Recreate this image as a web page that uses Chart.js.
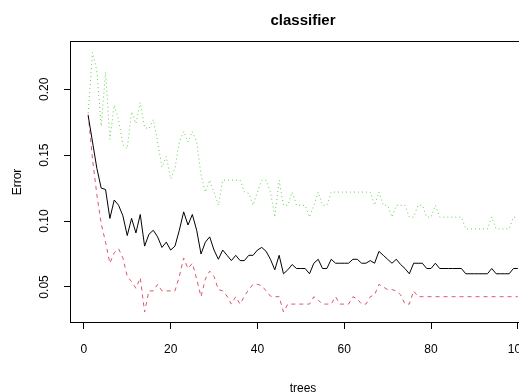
<!DOCTYPE html>
<html><head><meta charset="utf-8">
<script src="https://cdn.jsdelivr.net/npm/chart.js@4"></script>
<style>
html,body{margin:0;padding:0;overflow:hidden;background:#fff;width:519px;height:392px}
#wrap{position:absolute;left:0;top:0;width:570px;height:400px}
</style>
</head><body><div id="wrap"><canvas id="c" width="570" height="400"></canvas></div>
<script>
const trees=[1,2,3,4,5,6,7,8,9,10,11,12,13,14,15,16,17,18,19,20,21,22,23,24,25,26,27,28,29,30,31,32,33,34,35,36,37,38,39,40,41,42,43,44,45,46,47,48,49,50,51,52,53,54,55,56,57,58,59,60,61,62,63,64,65,66,67,68,69,70,71,72,73,74,75,76,77,78,79,80,81,82,83,84,85,86,87,88,89,90,91,92,93,94,95,96,97,98,99,100];
const oob=[0.180,0.160,0.140,0.125,0.124,0.102,0.116,0.112,0.104,0.089,0.102,0.091,0.105,0.081,0.090,0.093,0.088,0.080,0.084,0.078,
0.081,0.093,0.107,0.097,0.105,0.093,0.075,0.084,0.088,0.078,0.071,0.078,0.074,0.070,0.074,0.070,0.070,0.074,0.074,0.078,
0.080,0.077,0.071,0.063,0.074,0.060,0.063,0.067,0.064,0.064,0.064,0.060,0.068,0.071,0.064,0.064,0.071,0.068,0.068,0.068,
0.068,0.071,0.071,0.068,0.068,0.070,0.068,0.077,0.074,0.071,0.068,0.071,0.067,0.064,0.060,0.068,0.068,0.068,0.064,0.064,
0.068,0.064,0.064,0.064,0.064,0.064,0.064,0.060,0.060,0.060,0.060,0.060,0.060,0.064,0.060,0.060,0.060,0.060,0.064,0.064];
const class1=[0.181,0.147,0.120,0.098,0.084,0.068,0.076,0.079,0.072,0.058,0.054,0.049,0.057,0.031,0.047,0.047,0.052,0.047,0.047,0.047,
0.047,0.058,0.072,0.064,0.068,0.056,0.0426,0.056,0.062,0.058,0.048,0.047,0.043,0.037,0.0426,0.037,0.043,0.048,0.052,0.052,
0.051,0.047,0.043,0.0426,0.0426,0.031,0.037,0.037,0.037,0.037,0.037,0.037,0.0426,0.040,0.037,0.037,0.037,0.0426,0.037,0.037,
0.037,0.0426,0.041,0.037,0.037,0.0426,0.044,0.052,0.050,0.048,0.048,0.047,0.044,0.037,0.037,0.047,0.0426,0.0426,0.0426,0.0426,
0.0426,0.0426,0.0426,0.0426,0.0426,0.0426,0.0426,0.0426,0.0426,0.0426,0.0426,0.0426,0.0426,0.0426,0.0426,0.0426,0.0426,0.0426,0.0426,0.0426];
const class2=[0.182,0.228,0.214,0.172,0.213,0.162,0.188,0.177,0.158,0.155,0.183,0.174,0.190,0.171,0.170,0.177,0.160,0.141,0.149,0.132,
0.140,0.160,0.168,0.160,0.168,0.160,0.135,0.122,0.131,0.122,0.112,0.131,0.131,0.131,0.131,0.131,0.122,0.121,0.112,0.122,
0.131,0.131,0.122,0.103,0.131,0.112,0.112,0.122,0.112,0.112,0.112,0.103,0.112,0.122,0.112,0.112,0.122,0.122,0.122,0.122,
0.122,0.122,0.122,0.122,0.122,0.122,0.112,0.122,0.112,0.112,0.103,0.112,0.112,0.112,0.103,0.103,0.112,0.112,0.103,0.103,
0.112,0.103,0.103,0.103,0.103,0.103,0.103,0.094,0.094,0.094,0.094,0.094,0.094,0.103,0.094,0.094,0.094,0.094,0.103,0.103];
const xTicks=[0,20,40,60,80,100];
const yTicks=[0.05,0.10,0.15,0.20];

Chart.defaults.font.family='"Liberation Sans", Arial, sans-serif';
Chart.defaults.color='#000';

const boxPlugin={id:'box',afterDatasetsDraw(chart){
  const {ctx,chartArea:a}=chart;
  ctx.save();ctx.strokeStyle='#000';ctx.lineWidth=1;
  ctx.strokeRect(Math.round(a.left)-0.5,Math.round(a.top)-0.5,Math.round(a.right-a.left)+1,Math.round(a.bottom-a.top)+1);
  ctx.restore();
}};

const pts=arr=>trees.map((t,i)=>({x:t,y:arr[i]}));

new Chart(document.getElementById('c'),{
  type:'line',
  data:{datasets:[
    {label:'OOB',data:pts(oob),borderColor:'#000000',borderWidth:1,pointRadius:0,tension:0,fill:false},
    {label:'1',data:pts(class1),borderColor:'#DF536B',borderWidth:1,borderDash:[4,4],pointRadius:0,tension:0,fill:false},
    {label:'2',data:pts(class2),borderColor:'#61D04F',borderWidth:1,borderDash:[1,3],pointRadius:0,tension:0,fill:false}
  ]},
  options:{
    responsive:false,animation:false,devicePixelRatio:1,
    layout:{padding:{left:0,right:35,top:0,bottom:0}},
    plugins:{
      legend:{display:false},tooltip:{enabled:false},
      title:{display:true,text:'classifier',fullSize:false,color:'#000',
        font:{size:15,weight:'bold'},padding:{top:12,bottom:12}}
    },
    scales:{
      x:{type:'linear',min:-2.96,max:103.96,
        afterBuildTicks:s=>{s.ticks=xTicks.map(v=>({value:v}));},
        afterFit:s=>{s.height=78;},
        ticks:{autoSkip:false,maxRotation:0,minRotation:0,padding:13,color:'#000',font:{size:12},callback:v=>String(v)},
        grid:{drawOnChartArea:false,drawTicks:true,tickLength:7,color:'#000'},
        border:{display:false},
        title:{display:true,text:'trees',color:'#000',font:{size:12},padding:{top:0,bottom:4}}
      },
      y:{type:'linear',min:0.0234,max:0.2359,
        afterBuildTicks:s=>{s.ticks=yTicks.map(v=>({value:v}));},
        afterFit:s=>{s.width=71;},
        ticks:{autoSkip:false,minRotation:90,maxRotation:90,crossAlign:'center',padding:8,color:'#000',font:{size:12},callback:v=>v.toFixed(2)},
        grid:{drawOnChartArea:false,drawTicks:true,tickLength:7,color:'#000'},
        border:{display:false},
        title:{display:true,text:'Error',color:'#000',font:{size:12},padding:{top:10,bottom:0}}
      }
    }
  },
  plugins:[boxPlugin]
});
</script>
</body></html>
